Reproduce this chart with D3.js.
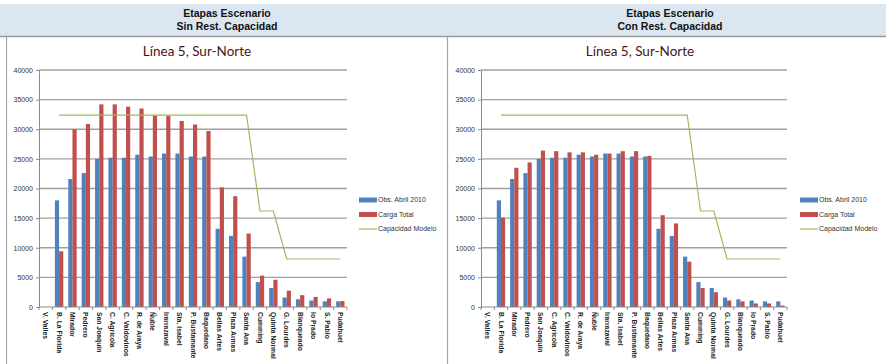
<!DOCTYPE html>
<html>
<head>
<meta charset="utf-8">
<script src="https://cdn.jsdelivr.net/npm/d3@7"></script>
<style>
  html, body { margin: 0; padding: 0; background: #fff; }
  svg { display: block; }
</style>
</head>
<body>
<svg id="chart" width="886" height="364"></svg>
<script>
// Estaciones de la Línea 5, en sentido Sur-Norte
const stations = [
  "V. Valles", "B. La Florida", "Mirador", "Pedrero", "San Joaquín", "C. Agrícola",
  "C. Valdovinos", "R. de Araya", "Ñuble", "Irarrazaval", "Sta. Isabel", "P. Bustamante",
  "Baquedano", "Bellas Artes", "Plaza Armas", "Santa Ana", "Cumming", "Quinta Normal",
  "G. Lourdes", "Blanqueado", "lo Prado", "S. Pablo", "Pudahuel"
];

const yTicks = [0, 5000, 10000, 15000, 20000, 25000, 30000, 35000, 40000];

// Carga observada (abril 2010)
const obsAbril2010 = [
  null, 18000, 21600, 22600, 25000, 25200, 25200, 25700, 25400, 25900, 25900, 25400,
  25400, 13200, 12000, 8500, 4200, 3200, 1600, 1300, 1100, 950, 950
];

// Carga total modelada, sin restricción de capacidad
const cargaSinRest = [
  null, 9400, 30000, 30900, 34200, 34200, 33800, 33500, 32300, 32300, 31400, 30800,
  29700, 20200, 18700, 12400, 5300, 4600, 2750, 2000, 1700, 1450, 1000
];

// Carga total modelada, con restricción de capacidad
const cargaConRest = [
  null, 15100, 23500, 24400, 26400, 26300, 26100, 26100, 25700, 25900, 26300, 26300,
  25500, 15500, 14100, 7650, 3200, 2500, 1100, 950, 600, 600, 250
];

// Capacidad del modelo por tramo
const capacidadModelo = [
  null, 32400, 32400, 32400, 32400, 32400, 32400, 32400, 32400, 32400, 32400, 32400,
  32400, 32400, 32400, 32400, 16200, 16200, 8100, 8100, 8100, 8100, 8100
];

const seriesNames = ["Obs. Abril 2010", "Carga Total", "Capacidad Modelo"];
const panelHeaders = [
  ["Etapas Escenario", "Sin Rest. Capacidad"],
  ["Etapas Escenario", "Con Rest. Capacidad"]
];
const chartTitle = "Línea 5, Sur-Norte";

const COLORS = { obs: "#4f81bd", carga: "#c0504d", cap: "#9bbb59" };

const svg = d3.select("#chart");

// Franja de encabezado
svg.append("rect")
  .attr("x", 0).attr("y", 4).attr("width", 886).attr("height", 32)
  .attr("fill", "#dce6f1");
svg.append("line")
  .attr("x1", 0).attr("x2", 886).attr("y1", 36.5).attr("y2", 36.5)
  .attr("stroke", "#9a9a9a").attr("stroke-width", 1.5);

// Bordes de los paneles
[6.5, 447.5].forEach(x => {
  svg.append("line")
    .attr("x1", x).attr("x2", x).attr("y1", 37).attr("y2", 364)
    .attr("stroke", "#a6a6a6").attr("stroke-width", 1.2);
});

function drawPanel(cfg) {
  const g = svg.append("g");

  // Encabezado
  cfg.header.forEach((t, i) => {
    g.append("text")
      .attr("x", cfg.headerX).attr("y", 17 + i * 13)
      .attr("text-anchor", "middle")
      .attr("font-family", "Liberation Sans, Arial, sans-serif")
      .attr("font-weight", "bold").attr("font-size", 10.5)
      .attr("fill", "#111")
      .text(t);
  });

  // Título del gráfico
  g.append("text")
    .attr("x", cfg.titleX).attr("y", 56)
    .attr("text-anchor", "middle")
    .attr("font-family", "Lato, Open Sans, sans-serif")
    .attr("font-size", 13.5)
    .attr("fill", "#4a1515")
    .text(chartTitle);

  const x = d3.scaleBand().domain(stations).range([cfg.left, cfg.right]).paddingInner(0).paddingOuter(0);
  const y = d3.scaleLinear().domain([0, 40000]).range([307, 70]);

  // Líneas de cuadrícula
  g.append("g").selectAll("line").data(yTicks.filter(v => v > 0)).join("line")
    .attr("x1", cfg.left).attr("x2", cfg.right)
    .attr("y1", d => y(d)).attr("y2", d => y(d))
    .attr("stroke", "#a0a0a0").attr("stroke-width", 1.3);

  // Eje Y
  const yAxis = d3.axisLeft(y).tickValues(yTicks).tickSize(3).tickPadding(3).tickFormat(d3.format("d"));
  const ya = g.append("g").attr("transform", `translate(${cfg.left},0)`).call(yAxis);
  ya.select(".domain").attr("stroke", "#8a8a8a");
  ya.selectAll(".tick line").attr("stroke", "#8a8a8a");
  ya.selectAll("text")
    .attr("font-family", "Liberation Sans, Arial, sans-serif")
    .attr("font-size", 7).attr("fill", "#333");

  // Barras
  const bw = x.bandwidth() / 3.2;
  const barData = stations.map((s, i) => ({ s, obs: obsAbril2010[i], carga: cfg.carga[i] }));
  const bars = g.append("g");
  bars.selectAll("rect.obs").data(barData.filter(d => d.obs != null)).join("rect")
    .attr("class", "obs")
    .attr("x", d => x(d.s) + x.bandwidth() / 2 - bw)
    .attr("width", bw)
    .attr("y", d => y(d.obs))
    .attr("height", d => y(0) - y(d.obs))
    .attr("fill", COLORS.obs);
  bars.selectAll("rect.carga").data(barData.filter(d => d.carga != null)).join("rect")
    .attr("class", "carga")
    .attr("x", d => x(d.s) + x.bandwidth() / 2)
    .attr("width", bw)
    .attr("y", d => y(d.carga))
    .attr("height", d => y(0) - y(d.carga))
    .attr("fill", COLORS.carga);

  // Línea de capacidad
  const capData = stations.map((s, i) => ({ s, v: capacidadModelo[i] }));
  g.append("path")
    .datum(capData)
    .attr("fill", "none")
    .attr("stroke", COLORS.cap).attr("stroke-width", 1.2)
    .attr("d", d3.line()
      .defined(d => d.v != null)
      .x(d => x(d.s) + x.bandwidth() / 2)
      .y(d => y(d.v)));

  // Eje X con marcas entre categorías
  const xa = g.append("g").attr("transform", `translate(0,${y(0)})`);
  xa.append("line")
    .attr("x1", cfg.left).attr("x2", cfg.right).attr("y1", 0).attr("y2", 0)
    .attr("stroke", "#8a8a8a");
  const bounds = stations.map(s => x(s)).concat([x(stations[stations.length - 1]) + x.bandwidth()]);
  xa.selectAll("line.tk").data(bounds).join("line")
    .attr("class", "tk")
    .attr("x1", d => d).attr("x2", d => d).attr("y1", 0).attr("y2", 3)
    .attr("stroke", "#8a8a8a");
  xa.selectAll("text").data(stations).join("text")
    .attr("transform", d => `translate(${x(d) + x.bandwidth() / 2},5) rotate(90)`)
    .attr("dy", "0.35em")
    .attr("text-anchor", "start")
    .attr("font-family", "Liberation Sans, Arial, sans-serif")
    .attr("font-weight", "bold")
    .attr("font-size", 6.8)
    .attr("fill", "#222")
    .text(d => d);

  // Leyenda
  const lg = g.append("g").attr("transform", `translate(${cfg.legendX},0)`);
  const ly = [200, 214.5, 229];
  lg.append("rect").attr("x", 0).attr("y", ly[0] - 2.5).attr("width", 18).attr("height", 5).attr("fill", COLORS.obs);
  lg.append("rect").attr("x", 0).attr("y", ly[1] - 2.5).attr("width", 18).attr("height", 5).attr("fill", COLORS.carga);
  lg.append("line").attr("x1", 0).attr("x2", 18).attr("y1", ly[2]).attr("y2", ly[2])
    .attr("stroke", COLORS.cap).attr("stroke-width", 1.2);
  lg.selectAll("text").data(seriesNames).join("text")
    .attr("x", 19).attr("y", (d, i) => ly[i]).attr("dy", "0.35em")
    .attr("font-family", "Liberation Sans, Arial, sans-serif")
    .attr("font-size", 7).attr("fill", "#333")
    .text(d => d);
}

drawPanel({ header: panelHeaders[0], headerX: 227, titleX: 197, left: 39, right: 347, carga: cargaSinRest, legendX: 359 });
drawPanel({ header: panelHeaders[1], headerX: 670, titleX: 640, left: 481, right: 787, carga: cargaConRest, legendX: 800 });
</script>
</body>
</html>
